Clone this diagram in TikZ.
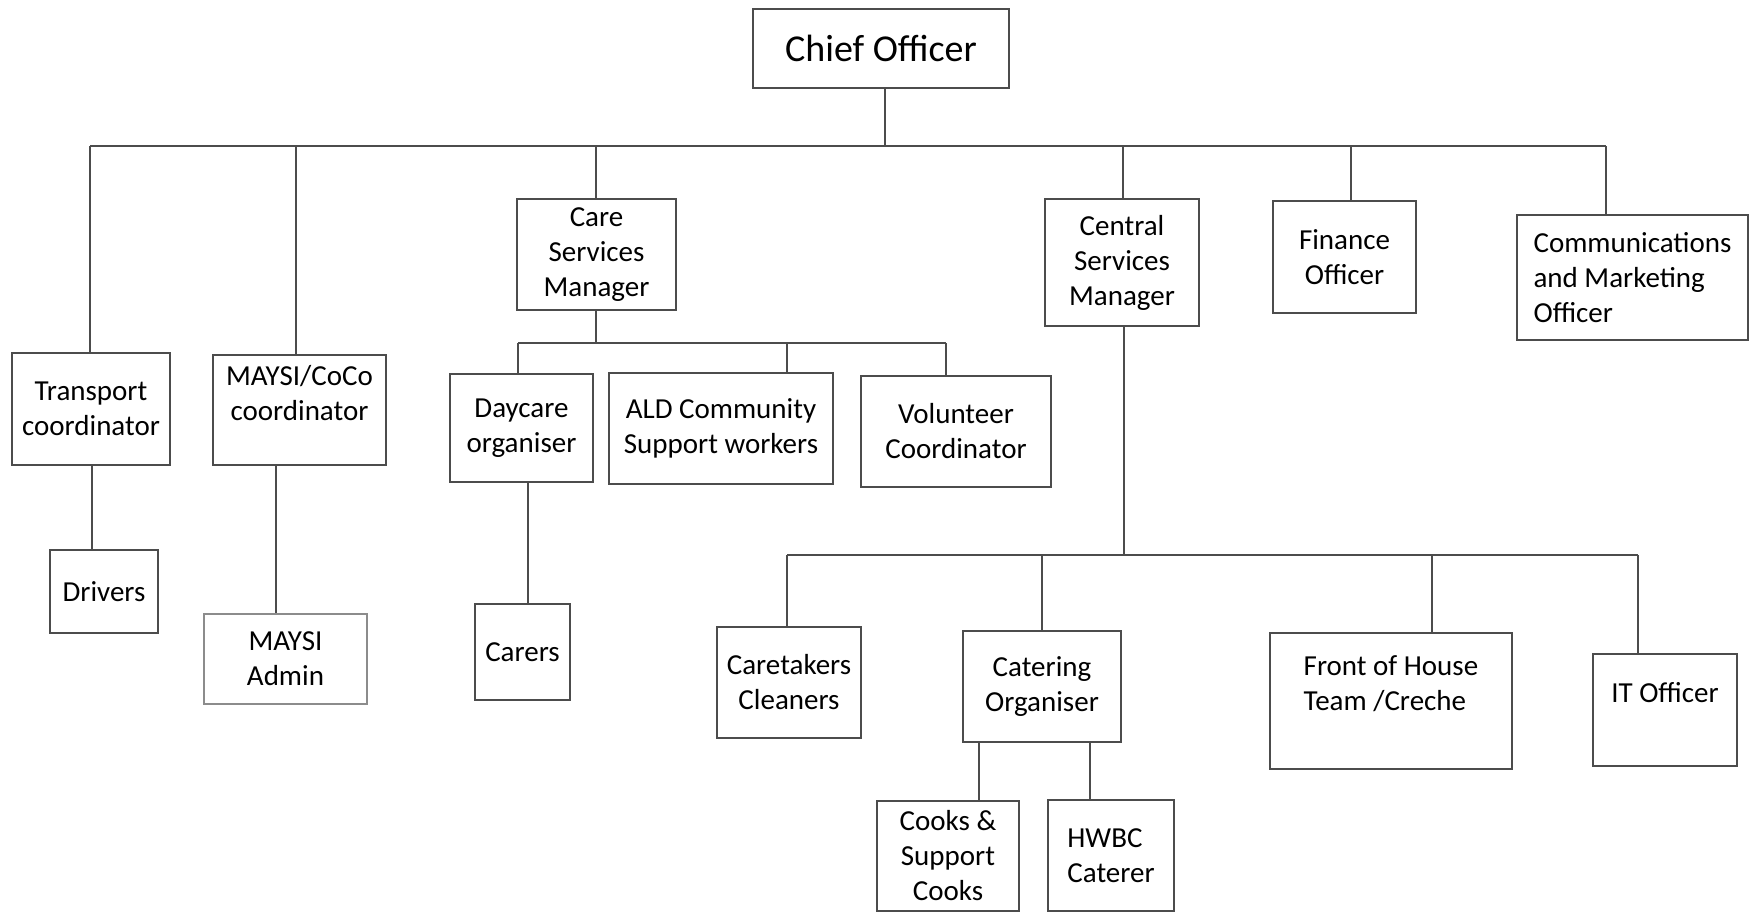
\documentclass[tikz,border=0pt]{standalone}
\usepackage{fontspec}
\setmainfont{Carlito}

\begin{document}
\begin{tikzpicture}
[x=1pt,y=-1pt,
 box/.style={shape=rectangle,draw=black!70,line width=1pt,align=center,inner sep=2pt,
   font=\fontsize{14.5}{17.5}\selectfont},
 wire/.style={draw=black!70,line width=1pt},
 big/.style={font=\fontsize{19}{23}\selectfont}]

\useasboundingbox (0,0) rectangle (875,456);

% top level
\node (chief) [box,big,minimum width=128pt,minimum height=39.5pt] at (440.5,24.25) {Chief Officer};

\node (trans) [box,minimum width=79pt,minimum height=56pt] at (45.5,204.5) {Transport\\coordinator};
\node (maysi) [box,minimum width=86.5pt,minimum height=55pt] at (149.75,205) {MAYSI/CoCo\\coordinator\\~};
\node (care) [box,minimum width=79.5pt,minimum height=55.5pt] at (298.25,127.25) {Care\\Services\\Manager};
\node (central) [box,minimum width=77pt,minimum height=63.5pt] at (561,131.25) {Central\\Services\\Manager};
\node (finance) [box,minimum width=71.5pt,minimum height=56pt] at (672.25,128.5) {Finance\\Officer};
\node (comms) [box,align=left,minimum width=115.5pt,minimum height=62.5pt] at (816.25,138.75) {Communications\\and Marketing\\Officer};

% under transport / maysi
\node (drivers) [box,minimum width=54pt,minimum height=41.5pt] at (52,295.75) {Drivers};
\node (admin) [box,draw=black!45,minimum width=81.5pt,minimum height=45pt] at (142.75,329.5) {MAYSI\\Admin};

% care services
\node (daycare) [box,minimum width=71.5pt,minimum height=54pt] at (260.75,214) {Daycare\\organiser};
\node (ald) [box,minimum width=112pt,minimum height=55.5pt] at (360.5,214.25) {ALD Community\\Support workers};
\node (volunteer) [box,minimum width=95pt,minimum height=55.5pt] at (478,215.75) {Volunteer\\Coordinator};
\node (carers) [box,minimum width=47.5pt,minimum height=48pt] at (261.25,326) {Carers};

% central services
\node (caretakers) [box,minimum width=72pt,minimum height=55.5pt] at (394.5,341.25) {Caretakers\\Cleaners};
\node (catering) [box,minimum width=79pt,minimum height=55.5pt] at (521,343.25) {Catering\\Organiser};
\node (front) [box,align=left,minimum width=121pt,minimum height=68pt] at (695.5,350.5) {Front of House\\Team /Creche\\~};
\node (it) [box,minimum width=72pt,minimum height=56pt] at (832.5,355) {IT Officer\\~};
\node (cooks) [box,minimum width=71pt,minimum height=55pt] at (474,428) {Cooks \&\\Support\\Cooks};
\node (hwbc) [box,align=left,minimum width=63pt,minimum height=55.5pt] at (555.5,427.75) {HWBC\\Caterer};

% main bus
\coordinate (b0) at (442.5,73);
\coordinate (b1) at (45,73);
\coordinate (b2) at (148,73);
\coordinate (b3) at (298,73);
\coordinate (b4) at (561.5,73);
\coordinate (b5) at (675.5,73);
\coordinate (b6) at (803,73);
\draw [wire] (chief.south -| b0) -- (b0);
\draw [wire] (b1) -- (b6);
\foreach \c/\n in {b1/trans,b2/maysi,b3/care,b4/central,b5/finance,b6/comms}
  \draw [wire] (\c) -- (\c |- \n.north);

% care services bus
\coordinate (c0) at (298,171.5);
\coordinate (c1) at (259,171.5);
\coordinate (c2) at (393.5,171.5);
\coordinate (c3) at (473,171.5);
\draw [wire] (care.south -| c0) -- (c0);
\draw [wire] (c1) -- (c3);
\foreach \c/\n in {c1/daycare,c2/ald,c3/volunteer}
  \draw [wire] (\c) -- (\c |- \n.north);

% single drops
\coordinate (d1) at (46,0);
\coordinate (d2) at (138,0);
\coordinate (d3) at (264,0);
\draw [wire] (d1 |- trans.south) -- (d1 |- drivers.north);
\draw [wire] (d2 |- maysi.south) -- (d2 |- admin.north);
\draw [wire] (d3 |- daycare.south) -- (d3 |- carers.north);

% central services bus
\coordinate (e0) at (562,277.5);
\coordinate (e1) at (393.5,277.5);
\coordinate (e2) at (521,277.5);
\coordinate (e3) at (716,277.5);
\coordinate (e4) at (819,277.5);
\draw [wire] (central.south -| e0) -- (e0);
\draw [wire] (e1) -- (e4);
\foreach \c/\n in {e1/caretakers,e2/catering,e3/front,e4/it}
  \draw [wire] (\c) -- (\c |- \n.north);

\coordinate (f1) at (489.5,0);
\coordinate (f2) at (545,0);
\draw [wire] (f1 |- catering.south) -- (f1 |- cooks.north);
\draw [wire] (f2 |- catering.south) -- (f2 |- hwbc.north);

\end{tikzpicture}
\end{document}
